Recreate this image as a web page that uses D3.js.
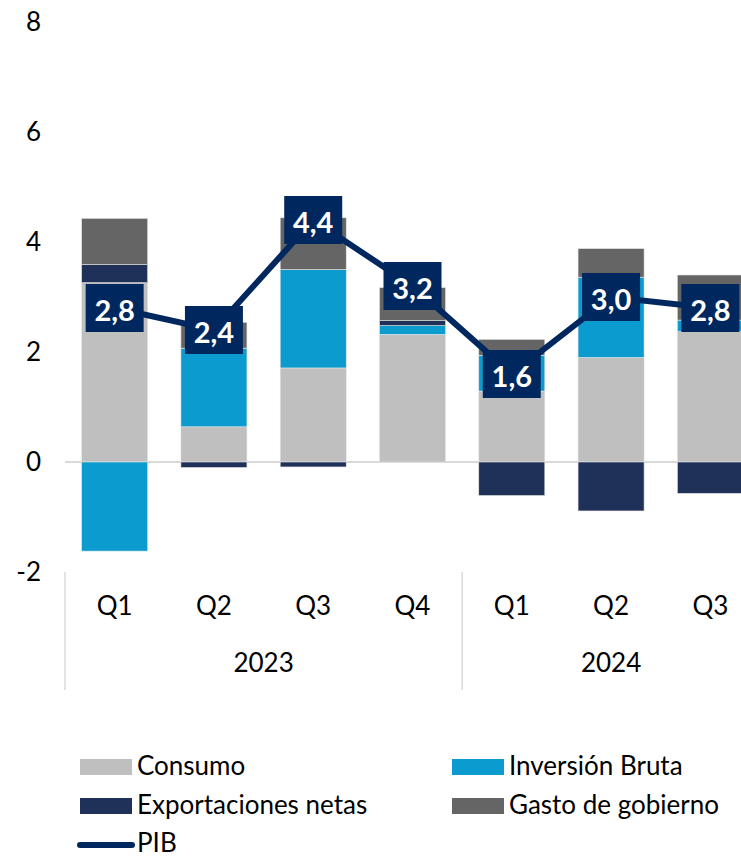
<!DOCTYPE html>
<html>
<head>
<meta charset="utf-8">
<script src="https://cdn.jsdelivr.net/npm/d3@7"></script>
<style>
  body { margin: 0; background: #fff; }
  svg { display: block; overflow: hidden; }
  text { font-family: "Lato", "Open Sans", sans-serif; fill: #000; }
</style>
</head>
<body>
<div id="chart"></div>
<script>
// data
var quarters = ["Q1", "Q2", "Q3", "Q4", "Q1", "Q2", "Q3"];
var years = ["2023", "2023", "2023", "2023", "2024", "2024", "2024"];
var consumo = [3.26, 0.64, 1.71, 2.32, 1.29, 1.90, 2.37];
var inversion = [-1.62, 1.43, 1.79, 0.16, 0.65, 1.46, 0.21];
var exportaciones = [0.33, -0.10, -0.09, 0.09, -0.61, -0.89, -0.57];
var gasto = [0.84, 0.47, 0.94, 0.60, 0.29, 0.52, 0.82];
var pib = [2.8, 2.4, 4.4, 3.2, 1.6, 3.0, 2.8];
var yTicks = [-2, 0, 2, 4, 6, 8];

var seriesNames = ["Consumo", "Inversión Bruta", "Exportaciones netas", "Gasto de gobierno"];
var colors = ["#bfbfbf", "#0b9bcf", "#1f3158", "#656565"];
var lineColor = "#00285e";

var svgWidth = 741;
var svgHeight = 860;
var fontSize = "26px";

var svg = d3.select("#chart")
  .append("svg")
  .attr("width", svgWidth)
  .attr("height", svgHeight);

// table for the stack
var keys = ["c", "i", "e", "g"];
var table = quarters.map(function(q, idx) {
  return { id: idx, c: consumo[idx], i: inversion[idx], e: exportaciones[idx], g: gasto[idx] };
});

var x = d3.scaleBand()
  .domain(table.map(d => d.id))
  .range([65, 760])
  .paddingInner(0.335)
  .paddingOuter(0.1675);

var y = d3.scaleLinear()
  .domain([-2, 8])
  .range([572, 22]);

var stacked = d3.stack()
  .keys(keys)
  .offset(d3.stackOffsetDiverging)(table);

// y labels
svg.append("g")
  .selectAll("text")
  .data(yTicks)
  .enter()
  .append("text")
  .attr("x", 41)
  .attr("y", d => y(d) + 2)
  .attr("text-anchor", "end")
  .attr("dominant-baseline", "middle")
  .attr("font-size", fontSize)
  .text(d => d);

// zero line
svg.append("line")
  .attr("x1", x.range()[0])
  .attr("x2", x.range()[1])
  .attr("y1", y(0))
  .attr("y2", y(0))
  .attr("stroke", "#d9d9d9")
  .attr("stroke-width", 2);

// bars
svg.append("g")
  .selectAll("g")
  .data(stacked)
  .enter()
  .append("g")
  .attr("fill", (d, idx) => colors[idx])
  .selectAll("rect")
  .data(d => d)
  .enter()
  .append("rect")
  .attr("x", d => x(d.data.id))
  .attr("width", x.bandwidth())
  .attr("y", d => y(Math.max(d[0], d[1])))
  .attr("height", d => Math.abs(y(d[0]) - y(d[1])))
  .attr("stroke", "#e4e4e4")
  .attr("stroke-width", 0.6);

// category axis
var catTop = y(-2);
var sepX = [x.range()[0], x.range()[0] + x.step() * 4, x.range()[1]];
svg.append("g")
  .selectAll("line")
  .data(sepX)
  .enter()
  .append("line")
  .attr("x1", d => d)
  .attr("x2", d => d)
  .attr("y1", catTop)
  .attr("y2", 690)
  .attr("stroke", "#d9d9d9")
  .attr("stroke-width", 1.5);

svg.append("g")
  .selectAll("text")
  .data(table)
  .enter()
  .append("text")
  .attr("x", d => x(d.id) + x.bandwidth() / 2)
  .attr("y", 608)
  .attr("text-anchor", "middle")
  .attr("dominant-baseline", "middle")
  .attr("font-size", fontSize)
  .text(d => quarters[d.id]);

var yearGroups = [
  { label: "2023", from: 0, to: 4 },
  { label: "2024", from: 4, to: 7 }
];
svg.append("g")
  .selectAll("text")
  .data(yearGroups)
  .enter()
  .append("text")
  .attr("x", d => x.range()[0] + x.step() * (d.from + d.to) / 2)
  .attr("y", 665)
  .attr("text-anchor", "middle")
  .attr("dominant-baseline", "middle")
  .attr("font-size", fontSize)
  .text(d => d.label);

// PIB line
var line = d3.line()
  .x((d, idx) => x(idx) + x.bandwidth() / 2)
  .y(d => y(d));

svg.append("path")
  .datum(pib)
  .attr("d", line)
  .attr("fill", "none")
  .attr("stroke", lineColor)
  .attr("stroke-width", 6);

var labels = svg.append("g")
  .selectAll("g")
  .data(pib)
  .enter()
  .append("g")
  .attr("transform", (d, idx) => `translate(${x(idx) + x.bandwidth() / 2}, ${y(d)})`);

labels.append("rect")
  .attr("x", -29)
  .attr("y", -24)
  .attr("width", 58)
  .attr("height", 48)
  .attr("fill", lineColor);

labels.append("text")
  .attr("text-anchor", "middle")
  .attr("dominant-baseline", "central")
  .attr("y", 1)
  .attr("font-size", "29px")
  .attr("font-weight", "bold")
  .style("fill", "#fff")
  .text(d => d.toFixed(1).replace(".", ","));

// legend
var legendItems = [
  { name: seriesNames[0], color: colors[0], x: 80, y: 767 },
  { name: seriesNames[1], color: colors[1], x: 452, y: 767 },
  { name: seriesNames[2], color: colors[2], x: 80, y: 806 },
  { name: seriesNames[3], color: colors[3], x: 452, y: 806 }
];

var legend = svg.append("g")
  .selectAll("g")
  .data(legendItems)
  .enter()
  .append("g")
  .attr("transform", d => `translate(${d.x}, ${d.y})`);

legend.append("rect")
  .attr("x", 0)
  .attr("y", -8)
  .attr("width", 52)
  .attr("height", 16)
  .attr("fill", d => d.color);

legend.append("text")
  .attr("x", 57)
  .attr("y", 1)
  .attr("dominant-baseline", "middle")
  .attr("font-size", fontSize)
  .text(d => d.name);

var pibLegend = svg.append("g")
  .attr("transform", "translate(80, 845)");

pibLegend.append("line")
  .attr("x1", 0)
  .attr("x2", 52)
  .attr("stroke", lineColor)
  .attr("stroke-width", 6)
  .attr("stroke-linecap", "round");

pibLegend.append("text")
  .attr("x", 57)
  .attr("y", 0)
  .attr("dominant-baseline", "middle")
  .attr("font-size", fontSize)
  .text("PIB");
</script>
</body>
</html>
